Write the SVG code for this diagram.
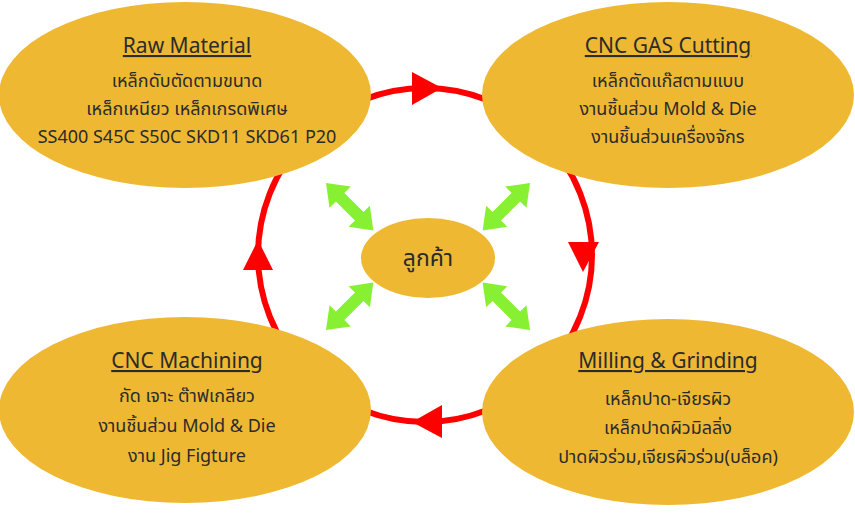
<svg xmlns="http://www.w3.org/2000/svg" width="855" height="515" viewBox="0 0 855 515">
<defs>
<style>
.n{fill:#EEB833}
.t{font-family:"Noto Sans","Noto Sans Thai","DejaVu Sans",sans-serif;font-size:18px;fill:#2b2b2b;text-anchor:middle}
.h{font-size:21px;text-decoration:underline}
.g{fill:#88F032}
.r{fill:#FF0000}
</style>
<polygon id="dbl" points="0,0 20,-15 20,-6 47,-6 47,-15 67,0 47,15 47,6 20,6 20,15"/>
</defs>
<rect width="855" height="515" fill="#fff"/>
<g id="connectors">
<circle cx="425" cy="255" r="167" fill="none" stroke="#FF0000" stroke-width="6"/>
<polygon class="r" points="412,72 442,88 412,105"/>
<polygon class="r" points="568,242 599,242 583,272"/>
<polygon class="r" points="442,405 442,438 412,422"/>
<polygon class="r" points="243,270 273,270 258,240"/>
<use href="#dbl" class="g" transform="translate(326,183) rotate(45)"/>
<use href="#dbl" class="g" transform="translate(530,183) rotate(135)"/>
<use href="#dbl" class="g" transform="translate(326,330) rotate(-45)"/>
<use href="#dbl" class="g" transform="translate(530,330) rotate(-135)"/>
</g>
<g id="raw">
<ellipse class="n" cx="185" cy="95" rx="186" ry="93"/>
<text class="t h" x="187" y="53">Raw Material</text>
<text class="t" x="187" y="87">เหล็กดับตัดตามขนาด</text>
<text class="t" x="187" y="115">เหล็กเหนียว เหล็กเกรดพิเศษ</text>
<text class="t" x="187" y="143">SS400 S45C S50C SKD11 SKD61 P20</text>
</g>
<g id="gas">
<ellipse class="n" cx="668" cy="95" rx="186" ry="93"/>
<text class="t h" x="668" y="53">CNC GAS Cutting</text>
<text class="t" x="668" y="87">เหล็กตัดแก๊สตามแบบ</text>
<text class="t" x="668" y="115">งานชิ้นส่วน Mold &amp; Die</text>
<text class="t" x="668" y="143">งานชิ้นส่วนเครื่องจักร</text>
</g>
<g id="machining">
<ellipse class="n" cx="185" cy="410" rx="186" ry="93"/>
<text class="t h" x="187" y="368">CNC Machining</text>
<text class="t" x="187" y="402">กัด เจาะ ต๊าฟเกลียว</text>
<text class="t" x="187" y="432">งานชิ้นส่วน Mold &amp; Die</text>
<text class="t" x="187" y="462">งาน Jig Figture</text>
</g>
<g id="milling">
<ellipse class="n" cx="668" cy="412" rx="186" ry="93"/>
<text class="t h" x="668" y="368">Milling &amp; Grinding</text>
<text class="t" x="668" y="405">เหล็กปาด-เจียรผิว</text>
<text class="t" x="668" y="434">เหล็กปาดผิวมิลลิ่ง</text>
<text class="t" x="668" y="463">ปาดผิวร่วม,เจียรผิวร่วม(บล็อค)</text>
</g>
<g id="customer">
<ellipse class="n" cx="428" cy="258" rx="67" ry="40"/>
<text class="t" x="428" y="266" style="font-size:23px">ลูกค้า</text>
</g>
</svg>
